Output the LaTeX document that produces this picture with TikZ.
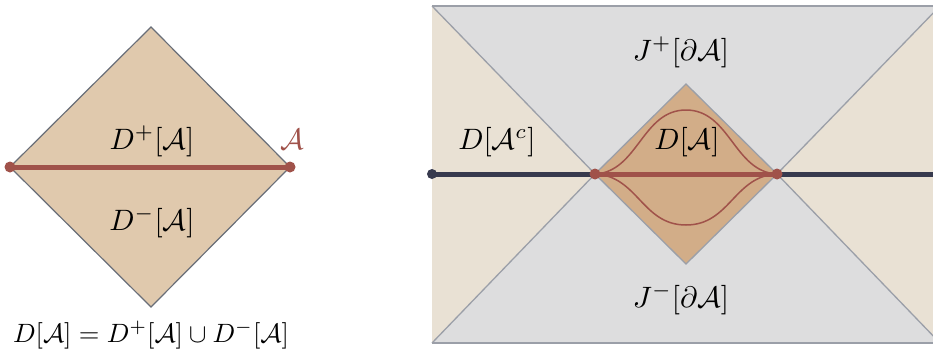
\documentclass[tikz,border=0pt]{standalone}
\definecolor{tanL}{RGB}{224,201,173}
\definecolor{tanD}{RGB}{210,173,136}
\definecolor{cream}{RGB}{233,225,212}
\definecolor{greyBG}{RGB}{221,221,222}
\definecolor{edgeL}{RGB}{105,110,120}
\definecolor{edgeR}{RGB}{155,159,168}
\definecolor{redA}{RGB}{160,82,74}
\definecolor{navy}{RGB}{55,58,78}
\begin{document}
\begin{tikzpicture}[x=1pt,y=-1pt,
  lbl/.style={scale=2.95, inner sep=0pt},
  eqlbl/.style={scale=2.65, inner sep=0pt},
  edgeline/.style={draw=edgeR, line width=1.3pt},
  redthick/.style={draw=redA, line width=5pt, line cap=round},
  navythick/.style={draw=navy, line width=5pt, line cap=round},
  redthin/.style={draw=redA, line width=1.5pt}]
\useasboundingbox (0,0) rectangle (933,351);
\fill[white] (0,0) rectangle (933,351);
% ---------- left diamond ----------
\coordinate (lt) at (151,27);
\coordinate (lb) at (151,307);
\coordinate (ll) at (10,167);
\coordinate (lr) at (290,167);
\filldraw[fill=tanL, draw=edgeL, line width=1.2pt] (lt)--(lr)--(lb)--(ll)--cycle;
\draw[redthick] (ll)--(lr);
\fill[redA] (ll) circle (5.5pt) (lr) circle (5.5pt);
\node[lbl] (dplus) at (152,141) {$D^+[\mathcal{A}]$};
\node[lbl] (dminus) at (152,222) {$D^-[\mathcal{A}]$};
\node[lbl, text=redA] (alabel) at (292,139) {$\mathcal{A}$};
\node[eqlbl] (eq) at (151,335) {$D[\mathcal{A}] = D^+[\mathcal{A}] \cup D^-[\mathcal{A}]$};
% ---------- right panel ----------
\coordinate (rtl) at (432,6);
\coordinate (rbl) at (432,343);
\coordinate (rtr) at (940,6);
\coordinate (rbr) at (940,343);
\coordinate (cL) at (595,174);
\coordinate (cR) at (777,174);
\coordinate (cT) at (686,84);
\coordinate (cB) at (686,264);
\coordinate (dl) at (432,174);
\coordinate (dr) at (945,174);
\fill[greyBG] (rtl) rectangle (rbr);
\fill[cream] (rtl)--(cL)--(rbl)--cycle;
\fill[cream] (rtr)--(cR)--(rbr)--cycle;
\fill[tanD] (cL)--(cT)--(cR)--(cB)--cycle;
\draw[edgeline] (rtl)--(rtr) (rbl)--(rbr);
\draw[edgeline] (rtl)--(cL)--(cB)--(cR)--(rtr);
\draw[edgeline] (rbl)--(cL)--(cT)--(cR)--(rbr);
\draw[redthin] (cL) .. controls (638,172) and (642,110) .. (686,110) .. controls (730,110) and (734,172) .. (cR);
\draw[redthin] (cL) .. controls (638,176) and (642,225) .. (686,225) .. controls (730,225) and (734,176) .. (cR);
\draw[navythick] (dl)--(cL);
\draw[navythick] (cR)--(dr);
\fill[navy] (dl) circle (5pt);
\draw[redthick] (cL)--(cR);
\fill[redA] (cL) circle (5.5pt) (cR) circle (5.5pt);
\node[lbl] (jplus) at (681,52) {$J^+[\partial\mathcal{A}]$};
\node[lbl] (jminus) at (681,299) {$J^-[\partial\mathcal{A}]$};
\node[lbl] (dac) at (497,142) {$D[\mathcal{A}^c]$};
\node[lbl] (da) at (687,142) {$D[\mathcal{A}]$};
\end{tikzpicture}
\end{document}
